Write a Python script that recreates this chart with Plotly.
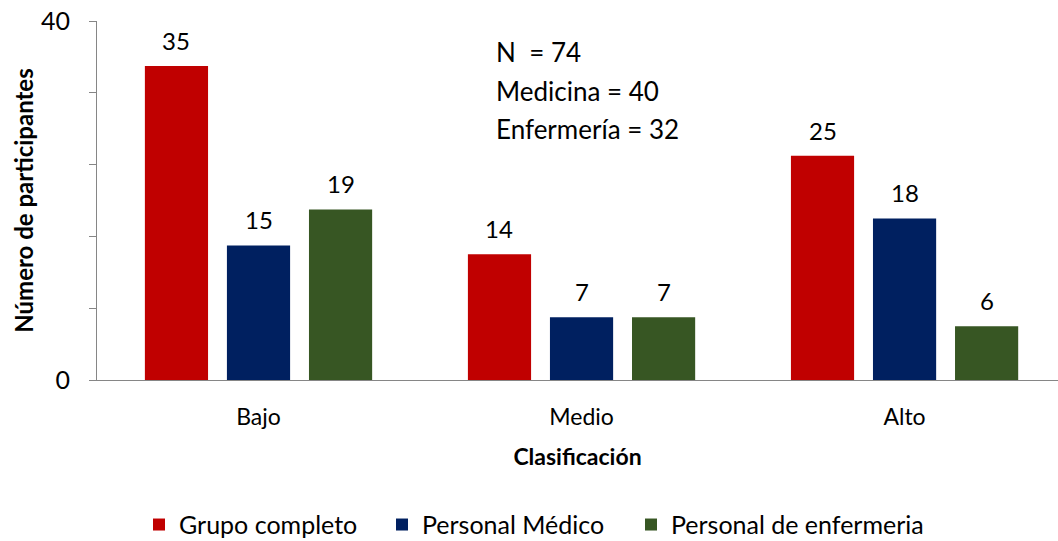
import plotly.graph_objects as go

categories = ["Bajo", "Medio", "Alto"]
grupo_completo = [35, 14, 25]
personal_medico = [15, 7, 18]
personal_enfermeria = [19, 7, 6]
series_names = ["Grupo completo", "Personal Médico", "Personal de enfermeria"]
colors = ["#C00000", "#002060", "#375623"]
y_tickvals = [0, 8, 16, 24, 32, 40]
y_ticktext = ["0", "", "", "", "", "40"]
info_lines = ["N  = 74", "Medicina = 40", "Enfermería = 32"]

FONT = "Lato, Open Sans, sans-serif"
BARGAP = 0.238
GROUPGAP = 0.23

x_idx = list(range(len(categories)))
all_series = [grupo_completo, personal_medico, personal_enfermeria]
legend_ids = ["legend", "legend2", "legend3"]
legend_x = [139 / 1058, 382 / 1058, 631 / 1058]

fig = go.Figure()
for name, vals, col, lg in zip(series_names, all_series, colors, legend_ids):
    fig.add_trace(go.Bar(
        x=x_idx, y=vals, name=name, marker=dict(color=col, line=dict(width=0)),
        legend=lg,
    ))

# data labels through the axes' scales
slot = (1 - BARGAP) / len(all_series)
for j, vals in enumerate(all_series):
    off = (j - (len(all_series) - 1) / 2) * slot
    for i, v in zip(x_idx, vals):
        fig.add_annotation(x=i + off, y=v, xref="x", yref="y", text=str(v),
                           showarrow=False, yanchor="bottom", yshift=9,
                           font=dict(size=24, color="#000000", family=FONT))

for line, yy in zip(info_lines, [0.914, 0.805, 0.699]):
    fig.add_annotation(text=line, xref="paper", yref="paper", x=0.413, y=yy,
                       xanchor="left", yanchor="middle", showarrow=False,
                       font=dict(size=26, color="#000000", family=FONT))

legend_common = dict(orientation="h", xref="container", xanchor="left",
                     y=0.03, yref="container", yanchor="middle",
                     font=dict(size=25, family=FONT), itemsizing="constant",
                     bgcolor="rgba(0,0,0,0)")

fig.update_layout(
    width=1058, height=541,
    margin=dict(l=97, r=0, t=21, b=161, autoexpand=False),
    paper_bgcolor="white", plot_bgcolor="white",
    barmode="group", bargap=BARGAP, bargroupgap=GROUPGAP,
    font=dict(family=FONT, color="#000000"),
    showlegend=True,
    legend=dict(x=legend_x[0], **legend_common),
    legend2=dict(x=legend_x[1], **legend_common),
    legend3=dict(x=legend_x[2], **legend_common),
)
fig.update_xaxes(
    range=[-0.5, 2.475], tickvals=x_idx, ticktext=categories, automargin=False,
    showline=True, linecolor="#868686", linewidth=1.2,
    ticks="", tickfont=dict(size=23, family=FONT), ticklabelstandoff=16,
    title=dict(text="<b>Clasificación</b>", font=dict(size=23, family=FONT), standoff=20),
    showgrid=False, zeroline=False,
)
fig.update_yaxes(
    range=[0, 40], tickvals=y_tickvals, ticktext=y_ticktext, automargin=False,
    showline=True, linecolor="#868686", linewidth=1.2,
    ticks="outside", ticklen=7, tickcolor="#868686", tickwidth=1,
    tickfont=dict(size=25, family=FONT), ticklabelstandoff=14,
    showgrid=False, zeroline=False,
    title=dict(text="<b>Número de participantes</b>", font=dict(size=24, family=FONT), standoff=0),
)
fig.write_html("out.html")
